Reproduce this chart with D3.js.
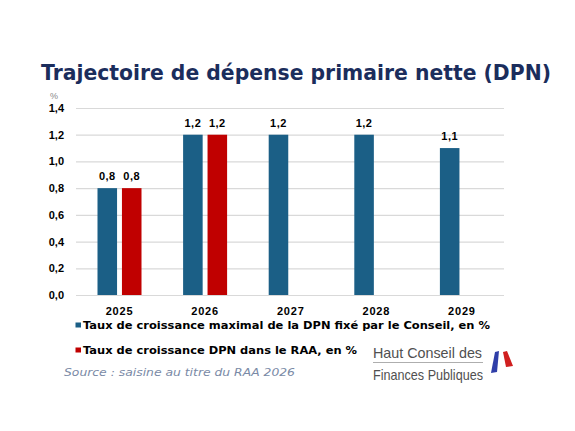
<!DOCTYPE html>
<html><head><meta charset="utf-8">
<script src="https://cdn.jsdelivr.net/npm/d3@7"></script>
<style>
html,body{margin:0;padding:0;background:#fff;}
svg{display:block;}
</style></head>
<body>
<svg id="c" width="575" height="431"></svg>
<script>
const years = ["2025","2026","2027","2028","2029"];
const seriesNames = ["Taux de croissance maximal de la DPN fixé par le Conseil, en %","Taux de croissance DPN dans le RAA, en %"];
const conseil = [0.8, 1.2, 1.2, 1.2, 1.1];
const raa = [0.8, 1.2, null, null, null];
const yTicks = [0, 0.2, 0.4, 0.6, 0.8, 1.0, 1.2, 1.4];
const colors = ["#1b5f86", "#c00000"];
const title = "Trajectoire de dépense primaire nette (DPN)";
const source = "Source : saisine au titre du RAA 2026";
const logoLines = ["Haut Conseil des", "Finances Publiques"];

const svg = d3.select("#c");
const fr = d3.formatLocale({decimal: ",", thousands: " ", grouping: [3], currency: ["", " €"]});
const fmt = fr.format(".1f");

const y = d3.scaleLinear().domain([0, 1.4]).range([295, 108]);
const x0 = d3.scaleBand().domain(years).range([76, 504]).padding(0);
const x1 = d3.scaleBand().domain([0, 1]).range([21.5, 65.5]).paddingInner(0.2);

// title
svg.append("text").attr("x", 41).attr("y", 80)
  .attr("font-family", "DejaVu Sans").attr("font-weight", "bold").attr("font-size", 21)
  .attr("fill", "#1b2d5c").attr("textLength", 510).attr("lengthAdjust", "spacingAndGlyphs")
  .text(title);

// unit
svg.append("text").attr("x", 54).attr("y", 99).attr("text-anchor", "middle")
  .attr("font-family", "Liberation Sans").attr("font-size", 9).attr("fill", "#888")
  .text("%");

// gridlines
const yAxis = d3.axisLeft(y).tickValues(yTicks).tickSize(-(504 - 76)).tickPadding(12).tickFormat(fmt);
const gy = svg.append("g").attr("transform", "translate(76,0)").call(yAxis);
gy.select(".domain").remove();
gy.selectAll(".tick line").attr("stroke", "#d9d9d9").attr("stroke-width", 1.2);
gy.selectAll(".tick text").attr("font-family", "Liberation Sans").attr("font-weight", "bold")
  .attr("font-size", 11).attr("fill", "#000");

// bars
const data = years.map((yr, i) => ({yr, vals: [conseil[i], raa[i]]}));
const groups = svg.append("g").selectAll("g").data(data).join("g")
  .attr("transform", d => `translate(${x0(d.yr)},0)`);
groups.selectAll("rect").data(d => d.vals.map((v, k) => ({v, k})).filter(e => e.v != null))
  .join("rect")
  .attr("x", e => x1(e.k)).attr("width", x1.bandwidth())
  .attr("y", e => y(e.v)).attr("height", e => y(0) - y(e.v))
  .attr("fill", e => colors[e.k]);
groups.selectAll("text.val").data(d => d.vals.map((v, k) => ({v, k})).filter(e => e.v != null))
  .join("text").attr("class", "val")
  .attr("x", e => x1(e.k) + x1.bandwidth() / 2).attr("y", e => y(e.v) - 8)
  .attr("text-anchor", "middle").attr("font-family", "Liberation Sans").attr("font-weight", "bold")
  .attr("font-size", 11).attr("fill", "#000").attr("letter-spacing", 0.5)
  .text(e => fmt(e.v));

// x axis labels
const xAxis = d3.axisBottom(x0).tickSize(0).tickPadding(12);
const gx = svg.append("g").attr("transform", "translate(0,295)").call(xAxis);
gx.select(".domain").remove();
gx.selectAll(".tick text").attr("font-family", "Liberation Sans").attr("font-weight", "bold")
  .attr("font-size", 11).attr("fill", "#000").attr("letter-spacing", 0.8)
  .attr("x", 43.5 - x0.bandwidth() / 2);

// legend
const legY = [325, 350];
const legW = [407, 274];
seriesNames.forEach((s, i) => {
  svg.append("rect").attr("x", 75.5).attr("y", legY[i] - 2.5).attr("width", 5.5).attr("height", 5)
    .attr("fill", colors[i]);
  svg.append("text").attr("x", 83).attr("y", legY[i] + 4)
    .attr("font-family", "DejaVu Sans").attr("font-weight", "bold").attr("font-size", 10.5)
    .attr("fill", "#000").attr("textLength", legW[i]).attr("lengthAdjust", "spacingAndGlyphs")
    .text(s);
});

// source
svg.append("text").attr("x", 64).attr("y", 376)
  .attr("font-family", "DejaVu Sans").attr("font-style", "italic").attr("font-size", 10.5)
  .attr("fill", "#7a8aa6").attr("textLength", 231).attr("lengthAdjust", "spacingAndGlyphs")
  .text(source);

// logo
svg.append("text").attr("x", 373).attr("y", 358)
  .attr("font-family", "Liberation Sans Narrow, Liberation Sans").attr("font-size", 14.5)
  .attr("fill", "#505050").attr("textLength", 109).attr("lengthAdjust", "spacingAndGlyphs")
  .text(logoLines[0]);
svg.append("line").attr("x1", 373).attr("x2", 483).attr("y1", 362.5).attr("y2", 362.5)
  .attr("stroke", "#999").attr("stroke-width", 0.8);
svg.append("text").attr("x", 373).attr("y", 380)
  .attr("font-family", "Liberation Sans Narrow, Liberation Sans").attr("font-size", 14.5)
  .attr("fill", "#505050").attr("textLength", 110).attr("lengthAdjust", "spacingAndGlyphs")
  .text(logoLines[1]);
svg.append("path").attr("d", "M495,352 L499,351 L497,372 L491,373 Z").attr("fill", "#2f3ea8");
svg.append("path").attr("d", "M503,352 L507,351 L513,366 L506,367 Z").attr("fill", "#d01f1f");
</script>
</body></html>
